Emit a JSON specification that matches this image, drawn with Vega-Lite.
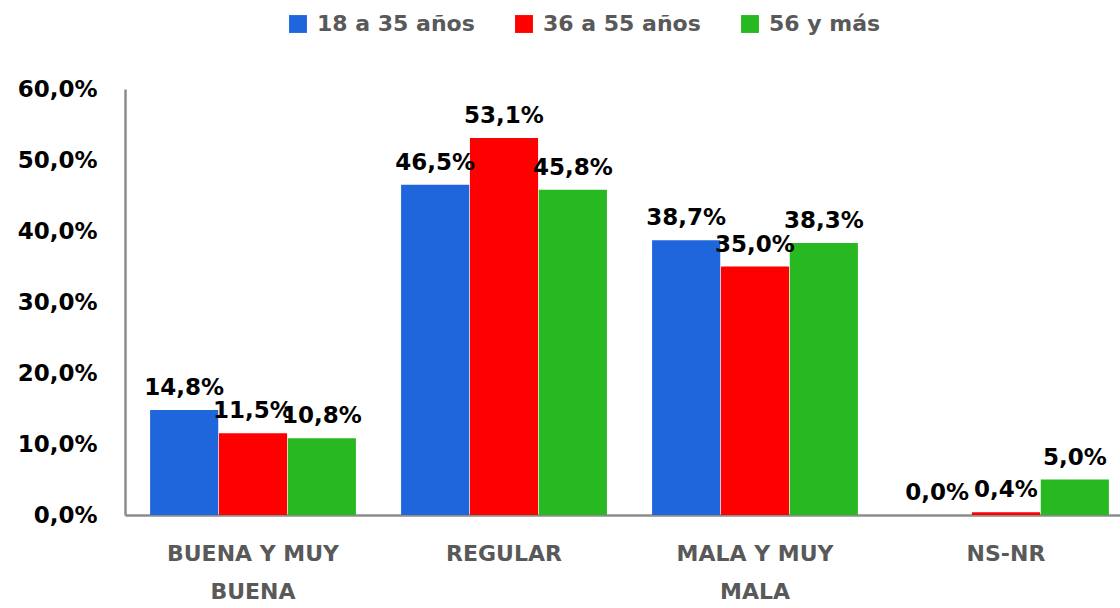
{
  "$schema": "https://vega.github.io/schema/vega-lite/v6.json",
  "width": 1009,
  "height": 426,
  "autosize": {"type": "none"},
  "padding": {"left": 125, "top": 89, "right": 0, "bottom": 93},
  "background": "white",
  "data": {
    "values": [
      {"cat": "BUENA Y MUY BUENA", "grupo": "18 a 35 años", "v": 0.148},
      {"cat": "BUENA Y MUY BUENA", "grupo": "36 a 55 años", "v": 0.115},
      {"cat": "BUENA Y MUY BUENA", "grupo": "56 y más", "v": 0.108},
      {"cat": "REGULAR", "grupo": "18 a 35 años", "v": 0.465},
      {"cat": "REGULAR", "grupo": "36 a 55 años", "v": 0.531},
      {"cat": "REGULAR", "grupo": "56 y más", "v": 0.458},
      {"cat": "MALA Y MUY MALA", "grupo": "18 a 35 años", "v": 0.387},
      {"cat": "MALA Y MUY MALA", "grupo": "36 a 55 años", "v": 0.350},
      {"cat": "MALA Y MUY MALA", "grupo": "56 y más", "v": 0.383},
      {"cat": "NS-NR", "grupo": "18 a 35 años", "v": 0.0},
      {"cat": "NS-NR", "grupo": "36 a 55 años", "v": 0.004},
      {"cat": "NS-NR", "grupo": "56 y más", "v": 0.050}
    ]
  },
  "encoding": {
    "x": {
      "field": "cat", "type": "nominal",
      "sort": ["BUENA Y MUY BUENA", "REGULAR", "MALA Y MUY MALA", "NS-NR"],
      "scale": {"paddingInner": 0.18, "paddingOuter": 0.1},
      "axis": {
        "title": null, "labelAngle": 0, "ticks": false,
        "domainColor": "#8c8c8c", "domainWidth": 2.5,
        "labelFont": "DejaVu Sans", "labelFontWeight": "bold", "labelFontSize": 22,
        "labelColor": "#595959", "labelPadding": 28, "labelLineHeight": 38,
        "labelBaseline": "top",
        "labelExpr": "datum.value == 'BUENA Y MUY BUENA' ? ['BUENA Y MUY', 'BUENA'] : datum.value == 'MALA Y MUY MALA' ? ['MALA Y MUY', 'MALA'] : datum.value"
      }
    },
    "xOffset": {"field": "grupo", "type": "nominal", "scale": {"paddingInner": 0.01}},
    "y": {
      "field": "v", "type": "quantitative",
      "scale": {"domain": [0, 0.6]},
      "axis": {
        "title": null, "format": ".1%", "values": [0, 0.1, 0.2, 0.3, 0.4, 0.5, 0.6],
        "labelOverlap": false,
        "grid": false, "ticks": false,
        "domainColor": "#8c8c8c", "domainWidth": 2.5,
        "labelFont": "DejaVu Sans", "labelFontWeight": "bold", "labelFontSize": 23,
        "labelColor": "#000000", "labelPadding": 28
      }
    }
  },
  "layer": [
    {
      "mark": {"type": "bar"},
      "encoding": {
        "color": {
          "field": "grupo", "type": "nominal",
          "scale": {"domain": ["18 a 35 años", "36 a 55 años", "56 y más"], "range": ["#1f66dd", "#ff0000", "#28b822"]},
          "legend": {
            "title": null, "orient": "none", "direction": "horizontal",
            "legendX": 162, "legendY": -76,
            "symbolType": "square", "symbolSize": 320, "symbolStrokeWidth": 0,
            "labelFont": "DejaVu Sans", "labelFontWeight": "bold", "labelFontSize": 22,
            "labelColor": "#595959", "columnPadding": 38, "labelOffset": 8
          }
        }
      }
    },
    {
      "mark": {"type": "text", "baseline": "bottom", "dy": -10, "font": "DejaVu Sans", "fontWeight": "bold", "fontSize": 23, "color": "#000000"},
      "encoding": {
        "text": {"field": "v", "type": "quantitative", "format": ".1%"}
      }
    }
  ],
  "config": {
    "view": {"stroke": null},
    "locale": {"number": {"decimal": ",", "thousands": ".", "grouping": [3], "currency": ["", " €"]}}
  }
}
